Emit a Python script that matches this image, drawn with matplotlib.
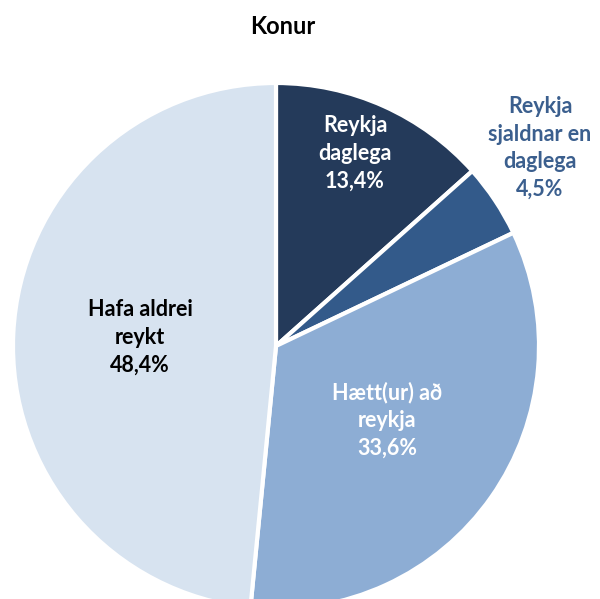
import matplotlib.pyplot as plt

labels = ["Reykja\ndaglega", "Reykja\nsjaldnar en\ndaglega", "Hætt(ur) að\nreykja", "Hafa aldrei\nreykt"]
values = [13.4, 4.5, 33.6, 48.4]
colors = ["#243a5a", "#335a8a", "#8dadd4", "#d7e3f0"]

plt.rcParams['font.family'] = ['Lato', 'DejaVu Sans']

fig = plt.figure(figsize=(6, 5.99), dpi=100)
ax = fig.add_axes([0, 0, 1, 1])

cx, cy, r = 276, 253, 263
wedges, _ = ax.pie(values, colors=colors, startangle=90, counterclock=False,
                   center=(cx, cy), radius=r, frame=True,
                   wedgeprops=dict(edgecolor='white', linewidth=3))
ax.set_xlim(0, 600)
ax.set_ylim(0, 599)
ax.set_aspect('equal')
ax.axis('off')

def pct(v):
    return f"{v:.1f}".replace('.', ',') + "%"

txt = dict(ha='center', va='center', fontsize=15.5, fontweight='bold', linespacing=1.4)
ax.text(355, 599 - 153, labels[0] + "\n" + pct(values[0]), color='white', **txt)
ax.text(540, 599 - 148, labels[1] + "\n" + pct(values[1]), color='#3b5f8e', **txt)
ax.text(387, 599 - 420, labels[2] + "\n" + pct(values[2]), color='white', **txt)
ax.text(140, 599 - 337, labels[3] + "\n" + pct(values[3]), color='black', **txt)

ax.text(283, 599 - 27, "Konur", ha='center', va='center', fontsize=17, fontweight='bold')

fig.savefig("out.png", dpi=100)
